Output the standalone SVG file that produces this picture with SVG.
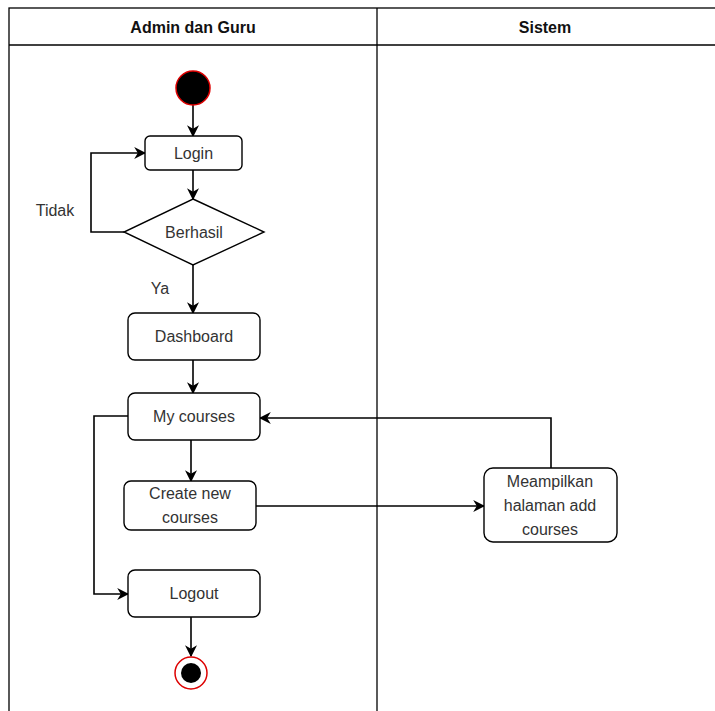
<svg xmlns="http://www.w3.org/2000/svg" width="715" height="711" viewBox="0 0 715 711">
<style>
.lane{fill:none;stroke:#000;stroke-width:1.3}
.box{fill:#fff;stroke:#000;stroke-width:1.4}
.t{font-family:"Liberation Sans",Arial,sans-serif;font-size:16px;fill:#333;text-anchor:middle;dominant-baseline:central}
.h{font-family:"Liberation Sans",Arial,sans-serif;font-size:16px;font-weight:bold;fill:#111;text-anchor:middle;dominant-baseline:central}
.c{fill:none;stroke:#000;stroke-width:1.6}
</style>
<defs>
<marker id="arr" viewBox="0 0 10 10" refX="9" refY="5" markerWidth="12" markerHeight="12" markerUnits="userSpaceOnUse" orient="auto">
<path d="M0,0 L10,5 L0,10 L3,5 Z" fill="#000"/>
</marker>
</defs>
<rect width="715" height="711" fill="#fff"/>
<g id="lanes">
<rect class="lane" x="9" y="8" width="720" height="720"/>
<line class="lane" x1="9" y1="45" x2="715" y2="45"/>
<line class="lane" x1="377" y1="8" x2="377" y2="711"/>
<text class="h" x="193" y="27">Admin dan Guru</text>
<text class="h" x="545" y="27">Sistem</text>
</g>
<g id="connectors">
<path class="c" d="M193,105 V136" marker-end="url(#arr)"/>
<path class="c" d="M193,170 V199" marker-end="url(#arr)"/>
<path class="c" d="M124,232 H91 V153 H145" marker-end="url(#arr)"/>
<path class="c" d="M193,265 V313" marker-end="url(#arr)"/>
<path class="c" d="M193,360 V393" marker-end="url(#arr)"/>
<path class="c" d="M191,440 V481" marker-end="url(#arr)"/>
<path class="c" d="M128,416 H94 V594 H128" marker-end="url(#arr)"/>
<path class="c" d="M256,506 H484" marker-end="url(#arr)"/>
<path class="c" d="M551,468 V418 H260" marker-end="url(#arr)"/>
<path class="c" d="M191,617 V656" marker-end="url(#arr)"/>
<text class="t" x="55" y="210">Tidak</text>
<text class="t" x="160" y="288">Ya</text>
</g>
<g id="start"><circle cx="193" cy="88" r="17" fill="#000" stroke="#d00" stroke-width="1.5"/></g>
<g id="login"><rect class="box" x="145" y="136" width="97" height="34" rx="5"/><text class="t" x="193.5" y="153">Login</text></g>
<g id="berhasil"><polygon class="box" points="193,199 264,232 193,265 124,232"/><text class="t" x="194" y="232">Berhasil</text></g>
<g id="dashboard"><rect class="box" x="128" y="313" width="132" height="47" rx="7"/><text class="t" x="194" y="336">Dashboard</text></g>
<g id="mycourses"><rect class="box" x="128" y="393" width="132" height="47" rx="7"/><text class="t" x="194" y="416">My courses</text></g>
<g id="createnew"><rect class="box" x="124" y="481" width="132" height="49" rx="7"/><text class="t" x="190" y="493">Create new</text><text class="t" x="190" y="517">courses</text></g>
<g id="logout"><rect class="box" x="128" y="570" width="132" height="47" rx="7"/><text class="t" x="194" y="593">Logout</text></g>
<g id="end"><circle cx="191" cy="673" r="16" fill="#fff" stroke="#d00" stroke-width="1.5"/><circle cx="191" cy="673" r="10" fill="#000"/></g>
<g id="meampilkan"><rect class="box" x="484" y="468" width="133" height="74" rx="9"/><text class="t" x="550" y="481">Meampilkan</text><text class="t" x="550" y="505">halaman add</text><text class="t" x="550" y="529">courses</text></g>
</svg>
